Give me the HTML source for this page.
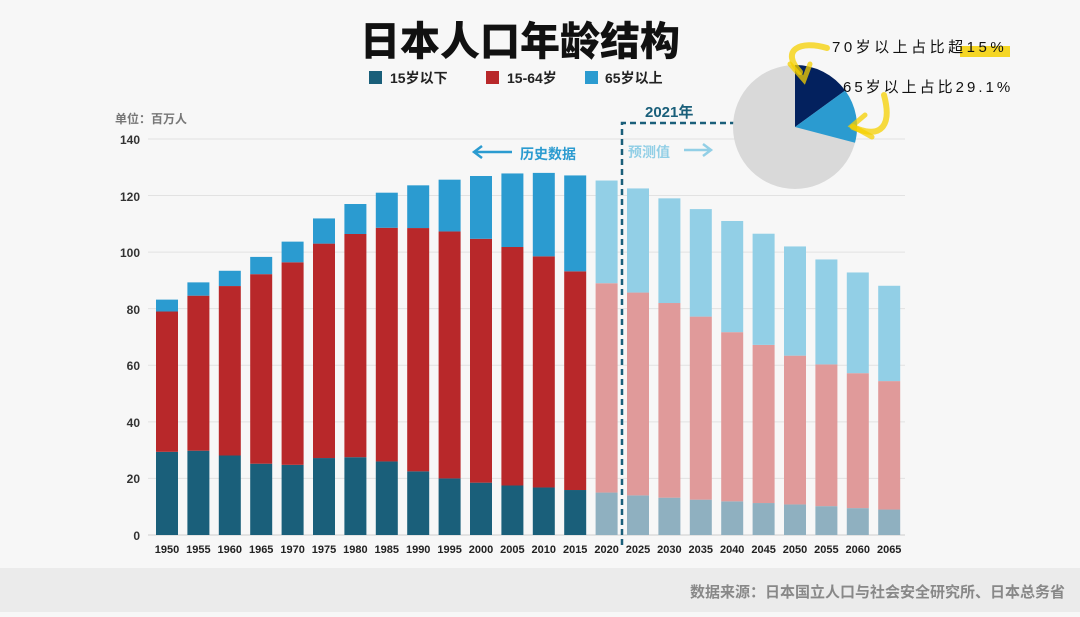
<!DOCTYPE html>
<html><head><meta charset="utf-8"><style>
body{margin:0;width:1080px;height:612px;background:#f7f7f7;overflow:hidden;font-family:"Liberation Sans","Noto Sans CJK SC",sans-serif}
</style></head><body>
<svg width="1080" height="612" xmlns="http://www.w3.org/2000/svg" font-family="Liberation Sans, Noto Sans CJK SC, sans-serif">
<rect width="1080" height="612" fill="#f7f7f7"/>
<rect y="568" width="1080" height="44" fill="#ebebeb"/>
<text x="1065" y="597" font-size="15" fill="#888" text-anchor="end" font-weight="bold">数据来源：日本国立人口与社会安全研究所、日本总务省</text>
<text x="520" y="55" font-size="40" font-weight="900" text-anchor="middle" fill="#111">日本人口年龄结构</text>
<rect x="369" y="71" width="13" height="13" fill="#1a5f7a"/><text x="390" y="83" font-size="14" font-weight="bold" fill="#222">15岁以下</text>
<rect x="486" y="71" width="13" height="13" fill="#b8282a"/><text x="507" y="83" font-size="14" font-weight="bold" fill="#222">15-64岁</text>
<rect x="585" y="71" width="13" height="13" fill="#2b9bd0"/><text x="605" y="83" font-size="14" font-weight="bold" fill="#222">65岁以上</text>
<text x="115" y="123" font-size="12" fill="#777" font-weight="bold">单位：百万人</text>
<g stroke="#e2e2e2" stroke-width="1" id="grid"></g>
<g font-size="12" fill="#333" font-weight="bold" text-anchor="end">
<text x="140" y="144">140</text><text x="140" y="201">120</text><text x="140" y="257">100</text><text x="140" y="314">80</text><text x="140" y="370">60</text><text x="140" y="427">40</text><text x="140" y="483">20</text><text x="140" y="540">0</text>
</g>
<g id="bars"></g>
<g font-size="11" fill="#222" font-weight="bold" text-anchor="middle" id="xl">
<text x="167" y="553">1950</text><text x="198.4" y="553">1955</text><text x="229.8" y="553">1960</text><text x="261.2" y="553">1965</text><text x="292.6" y="553">1970</text><text x="324" y="553">1975</text><text x="355.4" y="553">1980</text><text x="386.8" y="553">1985</text><text x="418.2" y="553">1990</text><text x="449.6" y="553">1995</text><text x="481" y="553">2000</text><text x="512.4" y="553">2005</text><text x="543.8" y="553">2010</text><text x="575.2" y="553">2015</text><text x="606.6" y="553">2020</text><text x="638" y="553">2025</text><text x="669.4" y="553">2030</text><text x="700.8" y="553">2035</text><text x="732.2" y="553">2040</text><text x="763.6" y="553">2045</text><text x="795" y="553">2050</text><text x="826.4" y="553">2055</text><text x="857.8" y="553">2060</text><text x="889.2" y="553">2065</text>
</g>
<path d="M622 545 V123 H735" fill="none" stroke="#1a5f7a" stroke-width="2.5" stroke-dasharray="6,4"/>
<text x="645" y="117" font-size="15" font-weight="bold" fill="#1a5f7a">2021年</text>
<text x="520" y="159" font-size="14" font-weight="bold" fill="#2b9bd0">历史数据</text>
<path d="M512 152 H475 M482 146 L474 152 L482 158" stroke="#2b9bd0" stroke-width="2.5" fill="none"/>
<text x="628" y="157" font-size="14" font-weight="bold" fill="#92cfe6">预测值</text>
<path d="M684 150 H710 M703 144 L711 150 L703 156" stroke="#92cfe6" stroke-width="2.5" fill="none"/>
<circle cx="795" cy="127" r="62" fill="#d9d9d9"/>
<path d="M795 127 L795 65 A62 62 0 0 1 845.2 90.5 Z" fill="#03215e"/>
<path d="M795 127 L845.2 90.5 A62 62 0 0 1 855 142.8 Z" fill="#2b9bd0"/>
<rect x="960" y="46" width="50" height="11" fill="#f5d000" opacity="0.85"/>
<text x="832" y="52" font-size="15" fill="#111" letter-spacing="3.5">70岁以上占比超15%</text>
<text x="843" y="92" font-size="15" fill="#111" letter-spacing="3">65岁以上占比29.1%</text>
<path d="M827 48 C800 40 780 50 800 72" stroke="#f5d000" stroke-width="6" fill="none" opacity="0.75" stroke-linecap="round"/>
<path d="M790 64 L804 80 L810 64" stroke="#f5d000" stroke-width="5" fill="none" opacity="0.75" stroke-linecap="round"/>
<path d="M884 95 C892 125 882 140 853 127" stroke="#f5d000" stroke-width="6" fill="none" opacity="0.75" stroke-linecap="round"/>
<path d="M865 115 L852 126 L872 137" stroke="#f5d000" stroke-width="5" fill="none" opacity="0.75" stroke-linecap="round"/>
</svg>
<script>
var ns="http://www.w3.org/2000/svg";
var g=document.getElementById("grid");
for(var i=0;i<=7;i++){var y=535-i*20*2.829;var l=document.createElementNS(ns,"line");l.setAttribute("x1",148);l.setAttribute("x2",905);l.setAttribute("y1",y);l.setAttribute("y2",y);if(i==0)l.setAttribute("stroke","#ccc");g.appendChild(l);}
var d=[[83.2,79,29.4],[89.3,84.6,29.8],[93.4,88,28.1],[98.3,92.2,25.2],[103.7,96.4,24.8],[111.9,103,27.2],[117,106.4,27.5],[121,108.6,26],[123.6,108.5,22.5],[125.6,107.3,20],[126.9,104.7,18.5],[127.8,101.8,17.5],[128,98.5,16.8],[127.1,93.2,15.9],[125.3,89,15],[122.5,85.7,14],[119,82,13.2],[115.2,77.2,12.5],[111,71.7,11.9],[106.5,67.2,11.3],[102,63.4,10.8],[97.4,60.3,10.2],[92.8,57.2,9.5],[88.1,54.4,9]];
var b=document.getElementById("bars");
function r(x,y1,y2,c){var e=document.createElementNS(ns,"rect");e.setAttribute("x",x-11);e.setAttribute("width",22);e.setAttribute("y",535-y2*2.829);e.setAttribute("height",(y2-y1)*2.829);e.setAttribute("fill",c);b.appendChild(e);}
d.forEach(function(v,i){var x=167+i*31.4;var f=i>=14;
r(x,0,v[2],f?"#8fb0c0":"#1a5f7a");r(x,v[2],v[1],f?"#e09a9a":"#b8282a");r(x,v[1],v[0],f?"#92cfe6":"#2b9bd0");});
</script>
</body></html>
